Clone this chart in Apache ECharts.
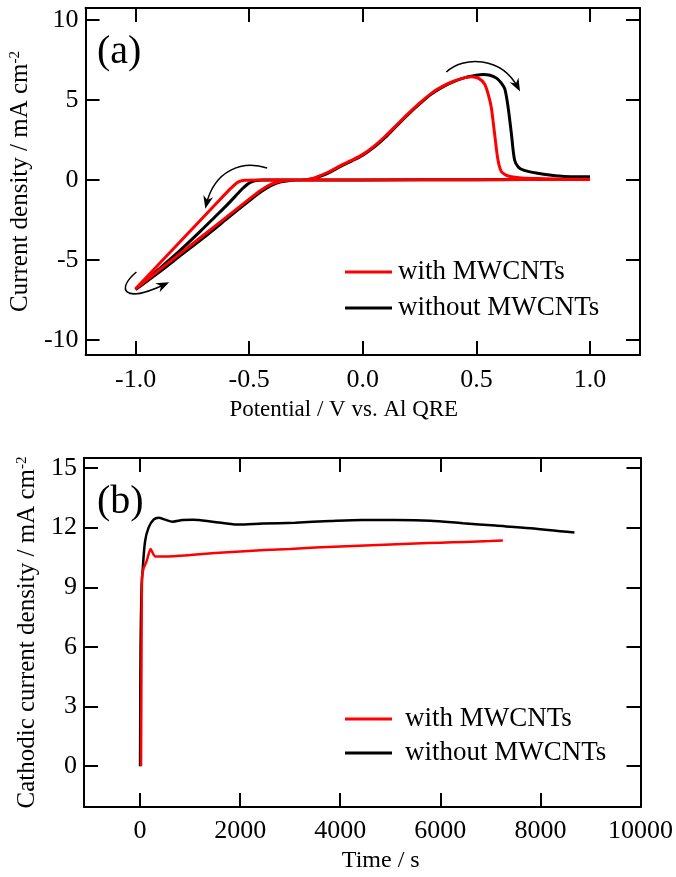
<!DOCTYPE html>
<html>
<head>
<meta charset="utf-8">
<script src="https://cdn.jsdelivr.net/npm/echarts@6/dist/echarts.min.js"></script>
<style>
  html, body { margin: 0; padding: 0; background: #fff; }
  #main { width: 676px; height: 877px; }
</style>
</head>
<body>
<div id="main"></div>
<script>
// (a) cyclic voltammograms, potential / V vs. Al QRE and current density / mA cm-2
var redCvX = [1.0, 0.5, 0.0, -0.3, -0.45, -0.52, -0.545, -0.56, -0.575, -0.59, -0.65, -0.7, -0.8, -0.9, -1.0,
  -0.9, -0.8, -0.7, -0.6, -0.5, -0.45, -0.4, -0.36, -0.32, -0.28, -0.25, -0.22, -0.2, -0.15, -0.1, -0.05, 0.0,
  0.05, 0.1, 0.15, 0.2, 0.25, 0.3, 0.35, 0.4, 0.45, 0.48, 0.51, 0.536, 0.555, 0.566, 0.58, 0.595, 0.61, 0.63,
  0.654, 0.7, 0.8, 0.9, 1.0];
var redCvY = [0.03, 0.02, 0.0, 0.0, 0.0, -0.02, -0.1, -0.25, -0.45, -0.65, -1.55, -2.3, -3.8, -5.3, -6.8,
  -5.68, -4.56, -3.44, -2.32, -1.2, -0.65, -0.25, -0.08, -0.02, 0.0, 0.02, 0.1, 0.2, 0.5, 0.88, 1.22, 1.6,
  2.12, 2.75, 3.45, 4.15, 4.8, 5.4, 5.85, 6.17, 6.4, 6.46, 6.35, 6.0, 5.2, 4.5, 2.9, 1.25, 0.52, 0.3,
  0.2, 0.12, 0.08, 0.05, 0.04];
var blackCvX = [1.0, 0.5, 0.0, -0.3, -0.44, -0.47, -0.49, -0.51, -0.53, -0.55, -0.6, -0.65, -0.7, -0.8, -0.9, -1.0,
  -0.9, -0.8, -0.7, -0.6, -0.5, -0.45, -0.4, -0.36, -0.32, -0.28, -0.25, -0.22, -0.2, -0.15, -0.1, -0.05, 0.0,
  0.05, 0.1, 0.15, 0.2, 0.25, 0.3, 0.35, 0.4, 0.45, 0.5, 0.53, 0.56, 0.59, 0.61, 0.625, 0.639, 0.654, 0.668,
  0.685, 0.71, 0.77, 0.83, 0.887, 0.95, 1.0];
var blackCvY = [0.05, 0.02, 0.0, 0.0, 0.0, -0.03, -0.12, -0.3, -0.55, -0.85, -1.6, -2.3, -3.0, -4.35, -5.6, -6.85,
  -5.8, -4.7, -3.6, -2.45, -1.3, -0.75, -0.32, -0.12, -0.03, 0.0, 0.02, 0.08, 0.17, 0.45, 0.83, 1.18, 1.55,
  2.05, 2.67, 3.4, 4.1, 4.75, 5.35, 5.8, 6.15, 6.4, 6.55, 6.6, 6.55, 6.35, 6.05, 5.7, 4.6, 2.9, 1.25,
  0.8, 0.6, 0.42, 0.3, 0.22, 0.2, 0.2];

// (b) cathodic current density vs time
var redTime = [20, 25, 30, 40, 70, 130, 210, 300, 500, 1000, 1500, 2000, 2500, 3000, 3500, 4000, 4500, 5000, 5500, 6000, 6500, 7000, 7250];
var redCurrent = [0, 3, 6, 9.5, 9.95, 10.3, 10.92, 10.55, 10.55, 10.62, 10.72, 10.8, 10.87, 10.93, 11.0, 11.05, 11.1, 11.15, 11.2, 11.24, 11.28, 11.32, 11.35];
var blackTime = [0, 10, 30, 50, 100, 170, 270, 370, 500, 650, 850, 1050, 1450, 1950, 2450, 3100, 3800, 4450, 5100, 5800, 6450, 7100, 7800, 8680];
var blackCurrent = [0, 6, 9, 9.8, 11.3, 12.0, 12.4, 12.5, 12.4, 12.3, 12.38, 12.4, 12.3, 12.15, 12.2, 12.25, 12.33, 12.38, 12.38, 12.35, 12.22, 12.1, 11.97, 11.75];

var xTicksA = [-1, -0.5, 0, 0.5, 1];
var yTicksA = [-10, -5, 0, 5, 10];
var xTicksB = [0, 2000, 4000, 6000, 8000, 10000];
var yTicksB = [0, 3, 6, 9, 12, 15];
var seriesNames = ['with MWCNTs', 'without MWCNTs'];

var ff = '"Liberation Serif", "Times New Roman", serif';

function pairs(xs, ys) {
  return xs.map(function (x, i) { return [x, ys[i]]; });
}

function mainX(grid, min, max, ticks, fmt, name, gap, pad, nameSize, margin) {
  return {
    gridIndex: grid, type: 'value', min: min, max: max, position: 'bottom',
    axisLine: { onZero: false, lineStyle: { color: '#000', width: 2 } },
    axisTick: { inside: true, length: 14, customValues: ticks, lineStyle: { color: '#000', width: 2 } },
    axisLabel: { customValues: ticks, formatter: fmt, fontSize: 26, color: '#000', fontFamily: ff, margin: margin },
    splitLine: { show: false },
    name: name, nameLocation: 'middle', nameGap: gap,
    nameTextStyle: { fontSize: nameSize, color: '#000', fontFamily: ff, padding: pad }
  };
}
function mirrorX(grid, min, max, ticks) {
  return {
    gridIndex: grid, type: 'value', min: min, max: max, position: 'top',
    axisLine: { onZero: false, lineStyle: { color: '#000', width: 2 } },
    axisTick: { inside: true, length: 14, customValues: ticks, lineStyle: { color: '#000', width: 2 } },
    axisLabel: { show: false }, splitLine: { show: false }
  };
}
function mainY(grid, min, max, ticks, name, gap) {
  return {
    gridIndex: grid, type: 'value', min: min, max: max, position: 'left',
    axisLine: { onZero: false, lineStyle: { color: '#000', width: 2 } },
    axisTick: { inside: true, length: 14, customValues: ticks, lineStyle: { color: '#000', width: 2 } },
    axisLabel: { customValues: ticks, fontSize: 26, color: '#000', fontFamily: ff, margin: 7 },
    splitLine: { show: false },
    name: name, nameLocation: 'middle', nameGap: gap,
    nameTextStyle: {
      fontSize: 25, color: '#000', fontFamily: ff,
      rich: { sup: { fontSize: 15, fontFamily: ff, color: '#000', verticalAlign: 'top' } }
    }
  };
}
function mirrorY(grid, min, max, ticks) {
  return {
    gridIndex: grid, type: 'value', min: min, max: max, position: 'right',
    axisLine: { onZero: false, lineStyle: { color: '#000', width: 2 } },
    axisTick: { inside: true, length: 14, customValues: ticks, lineStyle: { color: '#000', width: 2 } },
    axisLabel: { show: false }, splitLine: { show: false }
  };
}

function line(name, color, xi, yi, data, w, smooth) {
  return {
    name: name, type: 'line', xAxisIndex: xi, yAxisIndex: yi, data: data,
    symbol: 'none', clip: true, smooth: smooth,
    lineStyle: { color: color, width: w }, itemStyle: { color: color }
  };
}

var myChart = echarts.init(document.getElementById('main'));

var option = {
  animation: false,
  backgroundColor: '#fff',
  textStyle: { fontFamily: ff, color: '#000' },
  grid: [
    { left: 83, top: 8, width: 557, height: 347 },
    { left: 84, top: 458, width: 557, height: 349 }
  ],
  xAxis: [
    mainX(0, -1.22, 1.22, xTicksA, function (v) { return v.toFixed(1); }, 'Potential / V vs. Al QRE', 43, [0, 38, 0, 0], 23, 12),
    mirrorX(0, -1.22, 1.22, xTicksA),
    mainX(1, -1120, 10000, xTicksB, function (v) { return String(v); }, 'Time / s', 42, [0, 0, 0, 37], 24, 11),
    mirrorX(1, -1120, 10000, xTicksB)
  ],
  yAxis: [
    mainY(0, -10.94, 10.75, yTicksA, 'Current density / mA cm{sup|-2}', 43),
    mirrorY(0, -10.94, 10.75, yTicksA),
    mainY(1, -2.05, 15.5, yTicksB, 'Cathodic current density / mA cm{sup|-2}', 44),
    mirrorY(1, -2.05, 15.5, yTicksB)
  ],
  legend: [
    {
      data: seriesNames, orient: 'vertical', left: 340, top: 252, align: 'left',
      icon: 'rect', itemWidth: 47, itemHeight: 3, itemGap: 6,
      textStyle: { fontSize: 27, lineHeight: 30, color: '#000', fontFamily: ff, padding: [0, 0, 0, 1] }
    },
    {
      data: seriesNames, orient: 'vertical', left: 340, top: 699, align: 'left',
      icon: 'rect', itemWidth: 47, itemHeight: 3, itemGap: 4,
      textStyle: { fontSize: 27, lineHeight: 30, color: '#000', fontFamily: ff, padding: [0, 0, 0, 8] }
    }
  ],
  series: [
    line('without MWCNTs', '#000000', 0, 0, pairs(blackCvX, blackCvY), 3, 0.3),
    line('with MWCNTs', '#ff0000', 0, 0, pairs(redCvX, redCvY), 3, 0.3),
    line('without MWCNTs', '#000000', 2, 2, pairs(blackTime, blackCurrent), 2.5, 0.3),
    line('with MWCNTs', '#ff0000', 2, 2, pairs(redTime, redCurrent), 2.5, 0.2)
  ]
};

myChart.setOption(option);

// curved scan-direction arrows in panel (a), given in data coordinates
var arrowPaths = [
  [[0.368, 6.75], [0.443, 7.75], [0.61, 7.75], [0.684, 5.75]],
  [[-0.421, 0.75], [-0.53, 1.25], [-0.654, 0.625], [-0.689, -1.56]],
  [[-0.996, -5.75], [-1.083, -6.75], [-1.061, -7.81], [-0.868, -6.5]]
];

function px(p) {
  return myChart.convertToPixel({ xAxisIndex: 0, yAxisIndex: 0 }, p);
}

var graphics = [
  { type: 'text', x: 97, y: 52, style: { text: '(a)', fontSize: 40, fontFamily: ff, fill: '#000', verticalAlign: 'middle' } },
  { type: 'text', x: 97, y: 502, style: { text: '(b)', fontSize: 40, fontFamily: ff, fill: '#000', verticalAlign: 'middle' } }
];

arrowPaths.forEach(function (a) {
  var p0 = px(a[0]), c1 = px(a[1]), c2 = px(a[2]), p1 = px(a[3]);
  graphics.push({
    type: 'bezierCurve',
    shape: { x1: p0[0], y1: p0[1], cpx1: c1[0], cpy1: c1[1], cpx2: c2[0], cpy2: c2[1], x2: p1[0], y2: p1[1] },
    style: { stroke: '#000', lineWidth: 1.5, fill: null }
  });
  var dx = p1[0] - c2[0], dy = p1[1] - c2[1];
  var len = Math.sqrt(dx * dx + dy * dy);
  dx /= len; dy /= len;
  var nx = -dy, ny = dx;
  var tip = [p1[0] + dx * 4, p1[1] + dy * 4];
  var back = [tip[0] - dx * 13, tip[1] - dy * 13];
  var notch = [tip[0] - dx * 9, tip[1] - dy * 9];
  graphics.push({
    type: 'polygon',
    shape: { points: [tip, [back[0] + nx * 5, back[1] + ny * 5], notch, [back[0] - nx * 5, back[1] - ny * 5]] },
    style: { fill: '#000' }
  });
});

myChart.setOption({ graphic: graphics });

window.addEventListener('resize', function () {
  myChart.resize();
});
</script>
</body>
</html>
